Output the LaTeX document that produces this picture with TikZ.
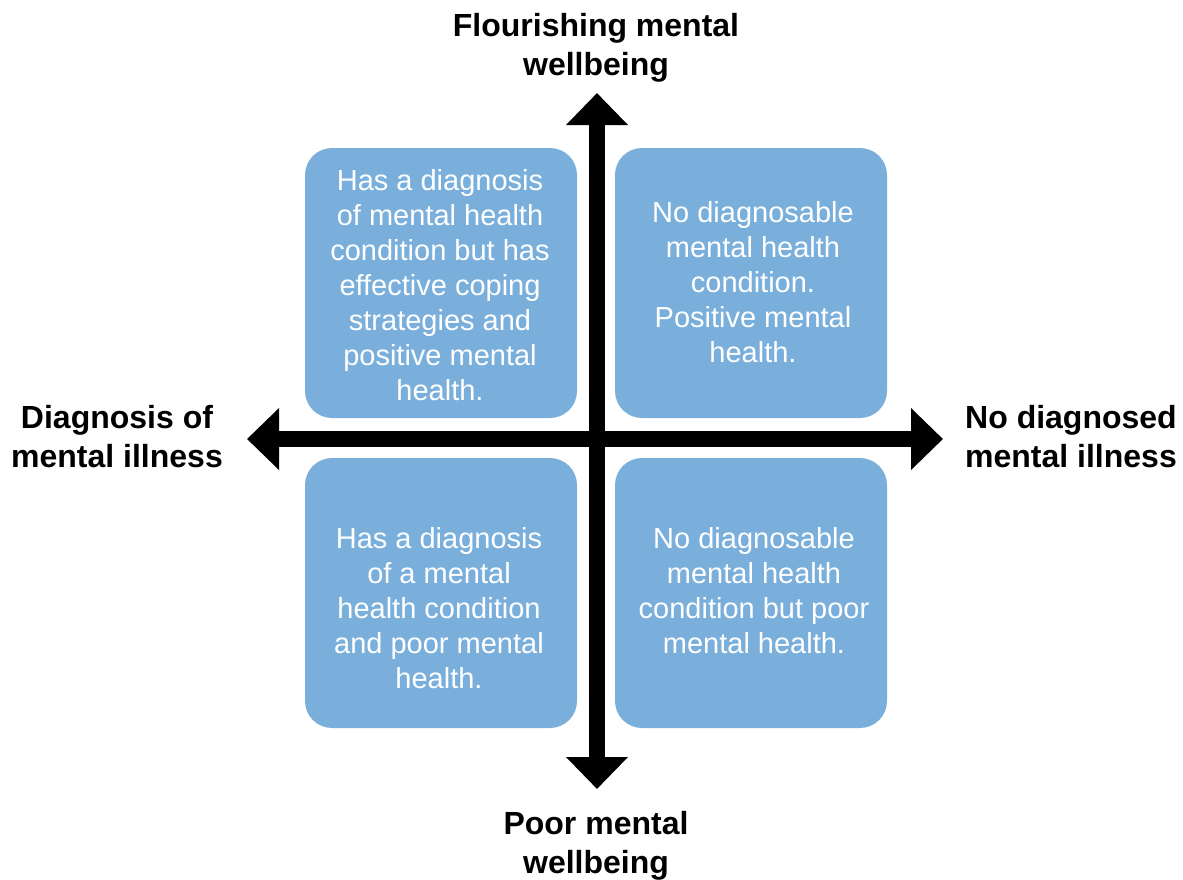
\documentclass[tikz,border=0pt]{standalone}
\usepackage{fontspec}
\setmainfont{Liberation Sans}
\usetikzlibrary{arrows.meta}

\definecolor{quadblue}{RGB}{122,175,220}

\tikzset{
  quad/.style={fill=quadblue, draw=none, rounded corners=13.5pt, minimum width=136pt, minimum height=135pt, inner sep=0pt},
  quadtext/.style={text=white, align=center, inner sep=0pt, font=\fontsize{14.5}{17.5}\selectfont},
  axislabel/.style={align=center, inner sep=0pt, font=\fontsize{16}{19.5}\selectfont\bfseries},
  axis/.style={line width=8pt, {Triangle[width=30pt,length=16pt]}-{Triangle[width=30pt,length=16pt]}}
}

\begin{document}
\begin{tikzpicture}[x=0.5pt, y=-0.5pt]
\useasboundingbox (0,0) rectangle (1183,879);

% quadrants
\node[quad] (tlbox) at (441,283) {};
\node[quad] (trbox) at (751,283) {};
\node[quad] (blbox) at (441,593) {};
\node[quad] (brbox) at (751,593) {};

\node[quadtext] (tltext) at (440,285) {Has a diagnosis\\of mental health\\condition but has\\effective coping\\strategies and\\positive mental\\health.};
\node[quadtext] (trtext) at (753,282) {No diagnosable\\mental health\\condition.\\Positive mental\\health.};
\node[quadtext] (bltext) at (439,608) {Has a diagnosis\\of a mental\\health condition\\and poor mental\\health.};
\node[quadtext] (brtext) at (754,591) {No diagnosable\\mental health\\condition but poor\\mental health.};

% axis ends
\coordinate (top) at (597,93);
\coordinate (bottom) at (597,789);
\coordinate (left) at (247,439);
\coordinate (right) at (943,439);

\draw[axis] (bottom) -- (top);
\draw[axis] (left) -- (right);

% axis labels
\node[axislabel] (flourish) at (596,48) {Flourishing mental\\wellbeing};
\node[axislabel] (poor) at (596,846) {Poor mental\\wellbeing};
\node[axislabel] (diag) at (117,437) {Diagnosis of\\mental illness};
\node[axislabel] (nodiag) at (1071,437) {No diagnosed\\mental illness};

\end{tikzpicture}
\end{document}
